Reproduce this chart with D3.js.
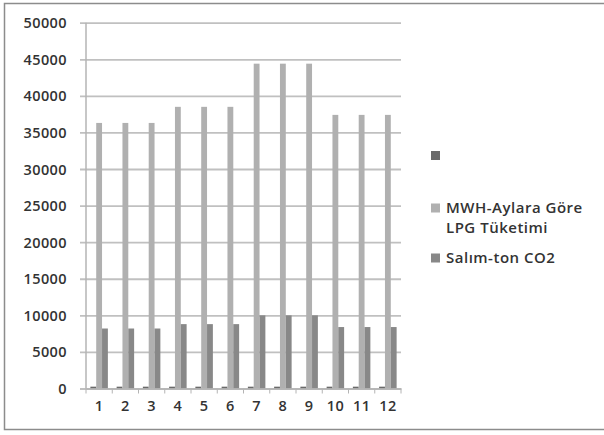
<!DOCTYPE html>
<html>
<head>
<meta charset="utf-8">
<script src="https://cdn.jsdelivr.net/npm/d3@7"></script>
<style>
  html, body { margin: 0; padding: 0; background: #fff; }
  svg { display: block; }
  text { font-family: "Open Sans", "DejaVu Sans", sans-serif; font-weight: 600; }
</style>
</head>
<body>
<svg id="chart" width="604" height="435"></svg>
<script>
// Monthly LPG consumption and CO2 emissions
const months = ["1","2","3","4","5","6","7","8","9","10","11","12"];
const seriesNames = ["", "MWH-Aylara Göre LPG Tüketimi", "Salım-ton CO2"];
const seriesLegend = [[""], ["MWH-Aylara Göre", "LPG Tüketimi"], ["Salım-ton CO2"]];
const seriesFirst = [250, 250, 250, 250, 250, 250, 250, 250, 250, 250, 250, 250];
const lpgMwh = [36300, 36300, 36300, 38500, 38500, 38500, 44400, 44400, 44400, 37400, 37400, 37400];
const co2Ton = [8200, 8200, 8200, 8800, 8800, 8800, 10000, 10000, 10000, 8400, 8400, 8400];
const yTicks = [0, 5000, 10000, 15000, 20000, 25000, 30000, 35000, 40000, 45000, 50000];
const colors = ["#6a6a6a", "#b0b0b0", "#888888"];

const seriesValues = [seriesFirst, lpgMwh, co2Ton];
const svg = d3.select("#chart");

// chart frame
svg.append("rect")
  .attr("x", 4.5).attr("y", 3.5).attr("width", 610).attr("height", 426)
  .attr("fill", "#fff").attr("stroke", "#8c8c8c").attr("stroke-width", 1.5);

const plot = { left: 86, right: 401, top: 22.7, bottom: 388.5 };

const y = d3.scaleLinear().domain([0, 50000]).range([plot.bottom, plot.top]);
const x0 = d3.scaleBand().domain(months).range([plot.left, plot.right]).padding(0);
const x1 = d3.scaleBand().domain(d3.range(seriesNames.length))
  .range([0, x0.bandwidth()]).paddingInner(0).paddingOuter(0.75);

// horizontal gridlines with outer tick marks
const yAxis = d3.axisLeft(y).tickValues(yTicks).tickSize(-(plot.right - plot.left)).tickFormat(d => d);
const gy = svg.append("g").attr("transform", `translate(${plot.left},0)`).call(yAxis);
gy.select(".domain").remove();
gy.selectAll(".tick line")
  .attr("x1", -6)
  .attr("stroke", "#c0c0c0").attr("stroke-width", 1.8);
gy.selectAll(".tick text")
  .attr("x", -19).attr("dy", "0.35em")
  .attr("fill", "#333").style("font-size", "14.5px").style("letter-spacing", "0.4px");

// vertical axis line
svg.append("line")
  .attr("x1", plot.left).attr("x2", plot.left)
  .attr("y1", plot.top).attr("y2", plot.bottom)
  .attr("stroke", "#b4b4b4").attr("stroke-width", 1.5);

// bars
const groups = svg.append("g").selectAll("g")
  .data(months).join("g")
  .attr("transform", d => `translate(${x0(d)},0)`);
groups.selectAll("rect")
  .data((m, i) => seriesValues.map((vals, s) => ({ s, v: vals[i] })))
  .join("rect")
  .attr("x", d => x1(d.s))
  .attr("width", x1.bandwidth())
  .attr("y", d => y(d.v))
  .attr("height", d => plot.bottom - y(d.v))
  .attr("fill", d => colors[d.s]);

// category axis
const xAxis = d3.axisBottom(x0).tickSize(0);
const gx = svg.append("g").attr("transform", `translate(0,${plot.bottom})`).call(xAxis);
gx.select(".domain").attr("stroke", "#b4b4b4").attr("stroke-width", 1.5);
gx.selectAll(".tick text")
  .attr("y", 17).attr("dy", "0.35em")
  .attr("fill", "#333").style("font-size", "14.5px").style("letter-spacing", "0.4px");
// tick marks between categories
svg.append("g").selectAll("line")
  .data(months.concat(["end"]))
  .join("line")
  .attr("x1", (d, i) => plot.left + i * x0.step())
  .attr("x2", (d, i) => plot.left + i * x0.step())
  .attr("y1", plot.bottom).attr("y2", plot.bottom + 5)
  .attr("stroke", "#b4b4b4").attr("stroke-width", 1);

// legend
const legendRows = [155.5, 208, 258];
const legend = svg.append("g");
seriesLegend.forEach((lines, i) => {
  legend.append("rect")
    .attr("x", 431).attr("y", legendRows[i] - 4.5)
    .attr("width", 9).attr("height", 9)
    .attr("fill", colors[i]);
  lines.forEach((t, j) => {
    legend.append("text")
      .attr("x", 446).attr("y", legendRows[i] + j * 20)
      .attr("dy", "0.35em")
      .attr("fill", "#333")
      .style("font-size", "15px").style("letter-spacing", "0.5px")
      .text(t);
  });
});
</script>
</body>
</html>
